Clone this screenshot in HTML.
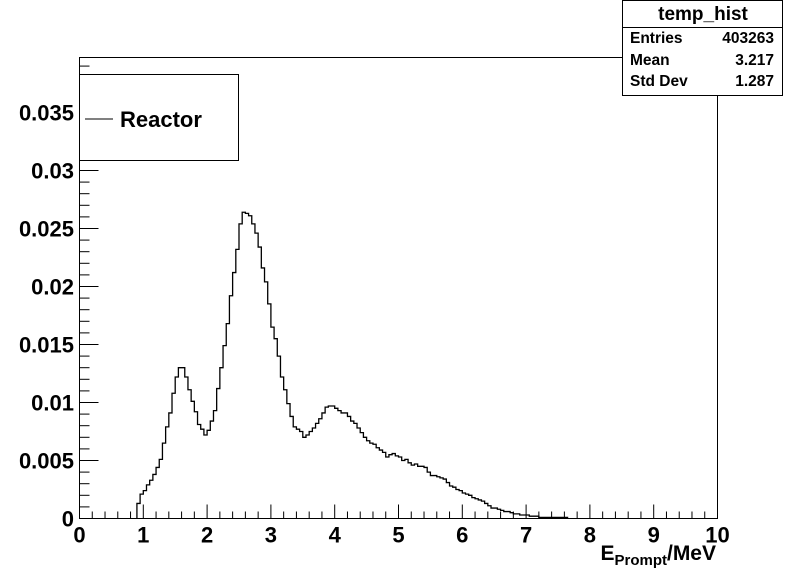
<!DOCTYPE html>
<html><head><meta charset="utf-8"><style>
body{margin:0;background:#fff;}
svg text{font-family:"Liberation Sans",Arial,sans-serif;font-weight:bold;fill:#000;}
</style></head><body>
<svg id="c" width="798" height="576" viewBox="0 0 798 576" xmlns="http://www.w3.org/2000/svg">
<rect width="798" height="576" fill="#fff"/>
<g id="axes"></g>
<path id="hist" fill="none" stroke="#000" stroke-width="1.3"/>
<g>
<rect x="79.5" y="74.5" width="159" height="86" fill="#fff" stroke="#000"/>
<line x1="85" y1="119" x2="113" y2="119" stroke="#000"/>
<text x="120" y="127" font-size="22">Reactor</text>
</g>
<g>
<rect x="622.5" y="0.5" width="160" height="95" fill="#fff" stroke="#000"/>
<line x1="622.5" y1="27.5" x2="782.5" y2="27.5" stroke="#000"/>
<text x="703" y="20" font-size="19" text-anchor="middle">temp_hist</text>
<text x="630" y="43" font-size="15.5">Entries</text>
<text x="774" y="43" font-size="15.5" text-anchor="end">403263</text>
<text x="630" y="65" font-size="15.5">Mean</text>
<text x="774" y="65" font-size="15.5" text-anchor="end">3.217</text>
<text x="630" y="86" font-size="15.5">Std Dev</text>
<text x="774" y="86" font-size="15.5" text-anchor="end">1.287</text>
</g>
<text x="716" y="560" font-size="21" text-anchor="end">E<tspan font-size="15" dy="5">Prompt</tspan><tspan dy="-5">/MeV</tspan></text>
</svg>
<script>
const binStart = 0.9;
const binWidth = 0.05;
const counts = [0.0013,0.0021,0.0024,0.0029,0.0033,0.0038,0.0044,0.0051,0.0065,0.0079,0.0091,0.0108,0.0122,0.0130,0.0130,0.0122,0.0111,0.0101,0.0092,0.0081,0.0077,0.0072,0.0076,0.0084,0.0093,0.0112,0.0130,0.0149,0.0168,0.0192,0.0212,0.0232,0.0254,0.0264,0.0263,0.0261,0.0254,0.0246,0.0234,0.0216,0.0204,0.0185,0.0165,0.0155,0.0140,0.0122,0.0111,0.0099,0.0088,0.0079,0.0077,0.0075,0.0070,0.0072,
0.0075,0.0078,0.0082,0.0086,0.0091,0.0096,0.0097,0.0097,0.0095,0.0093,0.0091,0.0091,0.0088,0.0084,0.0082,0.0078,0.0074,0.0070,0.0067,0.0065,0.0064,0.0061,0.0059,0.0057,0.0053,0.0055,0.0056,0.0054,0.0053,0.0050,0.0051,0.0048,0.0046,0.0047,0.0045,0.0045,0.0044,0.0040,0.0037,0.0037,0.0036,0.0035,0.0034,0.0031,0.0028,0.0027,0.0025,0.0024,0.0022,0.0021,0.0020,0.0018,0.0017,0.0016,0.0015,0.0013,0.0011,0.0009,0.0009,0.0008,0.0007,0.0006,0.0006,0.0005,0.0004,0.0004,0.0003,0.0003,0.0003,0.0002,0.0002,0.0002,0.0001,0.0001,0.0001,0.0001,0.0001,0.0001,0.0001,0.0001,0.0001];
const xTickLabels = ["0","1","2","3","4","5","6","7","8","9","10"];
const yTickValues = [0,0.005,0.01,0.015,0.02,0.025,0.03,0.035];
const yTickLabels = ["0","0.005","0.01","0.015","0.02","0.025","0.03","0.035"];

const L=79.5,R=717.5,T=57.5,B=518.5,XMAX=10,YMAX=0.03974;
const sx=v=>L+(R-L)*v/XMAX;
const sy=v=>B-(B-T)*v/YMAX;
const NS="http://www.w3.org/2000/svg";
const ax=document.getElementById('axes');
function mk(tag,attrs,parent){const e=document.createElementNS(NS,tag);for(const k in attrs)e.setAttribute(k,attrs[k]);(parent||ax).appendChild(e);return e;}
const frame=mk('rect',{x:L,y:T,width:R-L,height:B-T,fill:'none',stroke:'#000'});


for(let i=0;i<=50;i++){const v=i*0.2;const x=sx(v);const major=i%5===0;
 const t=mk('line',{x1:x,y1:B,x2:x,y2:B-(major?14:7),stroke:'#000'});
 
 }
xTickLabels.forEach((s,i)=>{const t=mk('text',{x:sx(+s),y:B+24,'font-size':22,'text-anchor':'middle'});t.textContent=s;
 
 });
for(let i=0;i<=39;i++){const v=i*0.001;const y=sy(v);const major=i%5===0;
 const t=mk('line',{x1:L,y1:y,x2:L+(major?19:10),y2:y,stroke:'#000'});
 
 }
yTickValues.forEach((v,i)=>{const t=mk('text',{x:74,y:sy(v)+8,'font-size':22,'text-anchor':'end'});t.textContent=yTickLabels[i];
 
 });
let d='M'+sx(binStart)+','+sy(0);
counts.forEach((c,i)=>{const x0=sx(binStart+i*binWidth),x1=sx(binStart+(i+1)*binWidth);d+=' L'+x0+','+sy(c)+' L'+x1+','+sy(c);});
d+=' L'+sx(binStart+counts.length*binWidth)+','+sy(0);
document.getElementById('hist').setAttribute('d',d);
</script>
</body></html>
